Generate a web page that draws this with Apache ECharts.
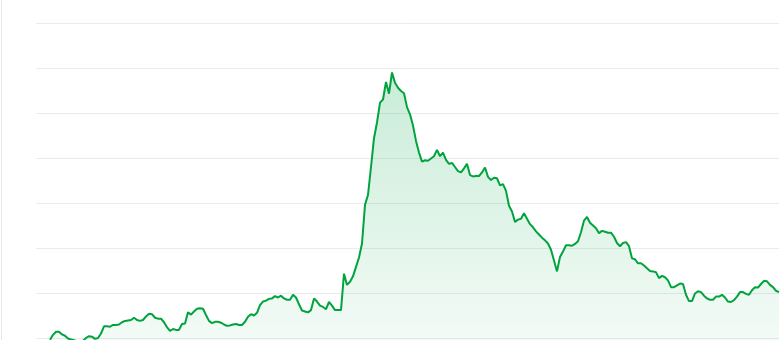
<!DOCTYPE html>
<html>
<head>
<meta charset="utf-8">
<script src="https://cdn.jsdelivr.net/npm/echarts@6/dist/echarts.min.js"></script>
<style>
html,body{margin:0;padding:0;background:#fff;overflow:hidden;width:781px;height:340px;}
#chart{width:781px;height:400px;}
</style>
</head>
<body>
<div id="chart"></div>
<script>
// y-axis tick values (gridlines)
const yTicks = [0, 10, 20, 30, 40, 50, 60, 70, 80];
// series values, one per period
const values = [
9.6,10.7,11.4,11.4,10.8,10.5,9.9,9.7,9.5,9.3,
9.3,9.4,10.0,10.4,10.3,9.8,10.0,11.0,12.6,12.6,
12.5,12.9,12.9,13.0,13.5,13.8,13.9,14.0,14.5,14.0,
13.8,14.0,14.8,15.4,15.3,14.5,14.3,14.3,13.5,12.4,
11.6,12.0,11.8,11.8,13.1,13.2,15.7,15.2,15.9,16.5,
16.6,16.5,15.1,13.8,13.3,13.6,13.6,13.4,13.0,12.7,
12.8,13.0,13.1,12.9,12.9,13.6,14.7,15.3,15.0,15.6,
17.3,18.1,18.3,18.7,18.8,19.3,19.0,19.4,18.8,18.5,
18.5,19.6,19.0,17.5,16.1,15.9,15.7,16.2,18.8,18.1,
17.2,16.9,16.4,18.0,17.2,16.2,16.2,16.2,24.3,21.8,
22.5,23.7,25.8,27.9,31.0,39.6,41.8,48.0,54.4,57.9,
62.3,63.0,66.9,64.3,69.0,66.7,65.6,64.9,64.4,61.3,
59.7,57.2,53.8,51.2,49.2,49.5,49.4,49.9,50.4,51.8,
50.4,51.2,49.6,48.7,48.9,48.0,47.1,46.8,47.7,48.7,
46.2,45.9,46.0,46.0,46.8,47.9,45.8,45.1,45.6,45.5,
43.9,44.2,42.7,39.4,38.1,35.8,36.3,36.5,37.7,36.5,
35.3,34.6,33.7,33.0,32.3,31.7,31.0,29.6,27.2,24.8,
28.0,29.2,30.6,30.6,30.5,30.9,31.5,33.5,36.1,36.9,
35.6,35.0,34.4,33.3,33.8,33.6,33.4,33.4,32.5,31.1,
30.4,31.1,31.3,30.4,27.7,27.5,26.6,26.6,26.1,25.5,
24.9,24.8,24.6,23.3,23.8,23.5,22.8,21.3,21.3,21.7,
22.1,22.0,19.6,18.2,18.2,19.9,20.4,20.2,19.4,18.8,
18.5,18.5,19.2,19.2,19.6,19.0,18.1,18.0,18.4,19.2,
20.2,20.2,19.8,19.6,20.6,21.3,21.2,22.0,22.7,22.6,
21.8,21.3,20.5,20.2
];
const categories = values.map((_, i) => String(i + 1));

const chart = echarts.init(document.getElementById('chart'), null, {renderer: 'canvas'});
const yMin = yTicks[0], yMax = yTicks[yTicks.length - 1], yStep = yTicks[1] - yTicks[0];
chart.setOption({
  animation: false,
  backgroundColor: '#ffffff',
  graphic: [{
    type: 'line',
    shape: {x1: 1.5, y1: 0, x2: 1.5, y2: 400},
    style: {stroke: '#e6e6e6', lineWidth: 1},
    silent: true
  }],
  grid: [
    {left: 36, right: 2, top: 23, height: 360, containLabel: false},
    {left: 50, right: 2, top: 23, height: 360, containLabel: false}
  ],
  xAxis: [
    {type: 'category', gridIndex: 0, data: categories, show: false, boundaryGap: false},
    {type: 'category', gridIndex: 1, data: categories, show: false, boundaryGap: false}
  ],
  yAxis: [
    {type: 'value', gridIndex: 0, min: yMin, max: yMax, interval: yStep,
     axisLine: {show: false}, axisTick: {show: false}, axisLabel: {show: false},
     splitLine: {show: true, lineStyle: {color: '#ebebeb', width: 1}}},
    {type: 'value', gridIndex: 1, min: yMin, max: yMax, interval: yStep,
     axisLine: {show: false}, axisTick: {show: false}, axisLabel: {show: false},
     splitLine: {show: false}}
  ],
  series: [{
    type: 'line',
    xAxisIndex: 1,
    yAxisIndex: 1,
    data: values,
    showSymbol: false,
    smooth: false,
    lineStyle: {color: '#00a33e', width: 2},
    itemStyle: {color: '#00a33e'},
    areaStyle: {
      color: new echarts.graphic.LinearGradient(0, 0, 0, 1, [
        {offset: 0, color: 'rgba(0,166,70,0.30)'},
        {offset: 1, color: 'rgba(0,166,70,0.03)'}
      ])
    }
  }]
});
</script>
</body>
</html>
